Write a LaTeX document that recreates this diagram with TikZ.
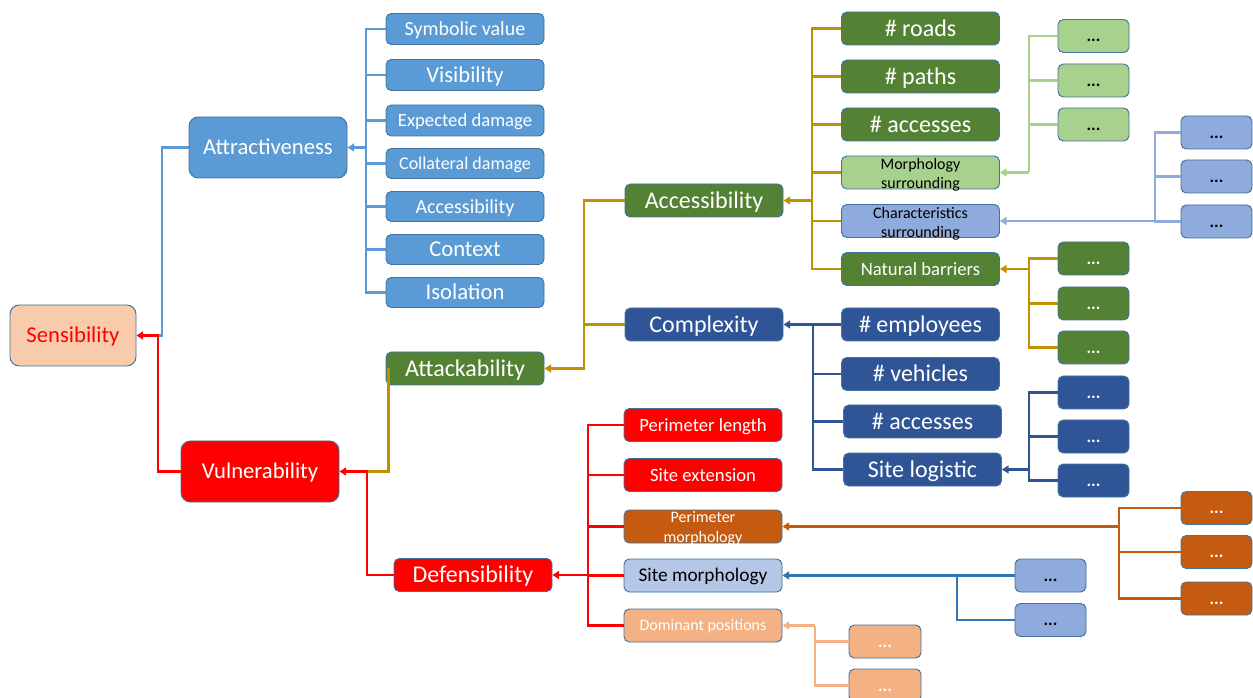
\documentclass[tikz,border=0pt]{standalone}
\usepackage{fontspec}
\setmainfont{Carlito}
\usetikzlibrary{arrows.meta}
\definecolor{lblue}{HTML}{5B9BD5}
\definecolor{pred}{HTML}{FF0000}
\definecolor{peach}{HTML}{F8CBAD}
\definecolor{dgreen}{HTML}{548235}
\definecolor{dblue}{HTML}{2F5597}
\definecolor{gold}{HTML}{BF9000}
\definecolor{lgreen}{HTML}{A9D18E}
\definecolor{peri}{HTML}{8FAADC}
\definecolor{orng}{HTML}{C55A11}
\definecolor{steel}{HTML}{B4C7E7}
\definecolor{apricot}{HTML}{F4B183}
\definecolor{smline}{HTML}{2E75B6}
\definecolor{bord}{HTML}{41719C}
\newcommand{\twoline}[3]{\raisebox{#1}[0pt][0pt]{\begin{tabular}{@{}c@{}}#2\\#3\end{tabular}}}
\tikzset{
  bx/.style={draw=bord, line width=0.7pt, rounded corners=4pt, inner sep=0pt, align=center, text=white},
  fs/.code={%
    \pgfmathsetmacro\myth{#1*0.8}\pgfmathsetmacro\mytd{#1*0.14}%
    \pgfkeys{/tikz/font=\fontsize{#1}{#1}\selectfont,
             /tikz/text height/.expanded=\myth pt,
             /tikz/text depth/.expanded=\mytd pt}},
  bigbx/.style={bx, rounded corners=7pt, minimum width=158*0.75pt, minimum height=61*0.75pt, fs=17},
  wd/.style={minimum width=#1*0.75pt},
  ht/.style={minimum height=#1*0.75pt},
  midbx/.style={bx, wd=158, ht=33},
  dotbx/.style={bx, wd=71, ht=33, fs=13},
  ln/.style={line width=1.6pt},
  arr/.style={-{Triangle[length=5pt,width=6pt]}}
}
\begin{document}
\begin{tikzpicture}[x=0.75pt,y=-0.75pt]
\useasboundingbox (0,0) rectangle (1253,698);
% bus coordinates
\coordinate (busSa) at (162,0);
\coordinate (busSb) at (158,0);
\coordinate (busA) at (366,0);
\coordinate (busV) at (367,0);
\coordinate (busK) at (584,0);
\coordinate (busD) at (588,0);
\coordinate (busAc) at (812,0);
\coordinate (busC) at (813,0);
\coordinate (busDP) at (815,0);
\coordinate (busSM) at (957,0);
\coordinate (busMo) at (1029,0);
\coordinate (busNa) at (1029,0);
\coordinate (busSL) at (1029,0);
\coordinate (busPM) at (1119,0);
\coordinate (busCh) at (1155,0);

% level 0/1
\node[bigbx, fill=peach, text=pred, wd=126] (sens) at (73,335.5) {Sensibility};
\node[bigbx, fill=lblue] (attr) at (268,147.5) {Attractiveness};
\node[bigbx, fill=pred] (vul) at (260,471.5) {Vulnerability};

% attractiveness children
\node[bx, fill=lblue, wd=158, ht=31, fs=15] (a1) at (465,29) {Symbolic value};
\node[bx, fill=lblue, wd=158, ht=31, fs=17] (a2) at (465,75) {Visibility};
\node[bx, fill=lblue, wd=158, ht=31, fs=14] (a3) at (465,120.5) {Expected damage};
\node[bx, fill=lblue, wd=158, ht=30, fs=13.5] (a4) at (465,163.5) {Collateral damage};
\node[bx, fill=lblue, wd=158, ht=30, fs=15] (a5) at (465,206.5) {Accessibility};
\node[bx, fill=lblue, wd=158, ht=30, fs=17] (a6) at (465,249.5) {Context};
\node[bx, fill=lblue, wd=158, ht=30, fs=17] (a7) at (465,292.5) {Isolation};

% level 2
\node[midbx, fill=dgreen, fs=18] (acc) at (704,200.5) {Accessibility};
\node[midbx, fill=dblue, fs=18] (cpx) at (704,324.5) {Complexity};
\node[midbx, fill=dgreen, fs=18] (att) at (465,368.5) {Attackability};
\node[midbx, fill=pred, fs=18] (def) at (473,575) {Defensibility};

% accessibility children
\node[midbx, fill=dgreen, fs=18] (r1) at (920.5,28.5) {\# roads};
\node[midbx, fill=dgreen, fs=18] (r2) at (920.5,76.5) {\# paths};
\node[midbx, fill=dgreen, fs=18] (r3) at (920.5,124.5) {\# accesses};
\node[midbx, fill=lgreen, text=black, font=\fontsize{12}{14.25}\selectfont] (r4) at (920.5,172.5) {\twoline{-5.25pt}{Morphology}{surrounding}};
\node[midbx, fill=peri, text=black, font=\fontsize{12}{14.25}\selectfont] (r5) at (920.5,221) {\twoline{-5.25pt}{Characteristics}{surrounding}};
\node[midbx, fill=dgreen, fs=14] (r6) at (920.5,269) {Natural barriers};

% complexity children
\node[midbx, fill=dblue, fs=18] (k1) at (920.5,324.5) {\# employees};
\node[midbx, fill=dblue, fs=18] (k2) at (920.5,374) {\# vehicles};
\node[midbx, fill=dblue, fs=18] (k3) at (922.5,421.5) {\# accesses};
\node[midbx, fill=dblue, fs=18] (k4) at (922.5,469.5) {Site logistic};

% defensibility children
\node[midbx, fill=pred, fs=14] (d1) at (703,425) {Perimeter length};
\node[midbx, fill=pred, fs=14] (d2) at (703,475) {Site extension};
\node[midbx, fill=orng, font=\fontsize{12}{15}\selectfont] (d3) at (703,526.5) {\twoline{-4.6pt}{Perimeter}{morphology}};
\node[midbx, fill=steel, text=black, fs=14.5] (d4) at (703,575.5) {Site morphology};
\node[midbx, fill=apricot, fs=12] (d5) at (703,625.5) {Dominant positions};

% leaf boxes
\node[dotbx, fill=lgreen, text=black] (m1) at (1093.5,36) {\textbf{...}};
\node[dotbx, fill=lgreen, text=black] (m2) at (1093.5,80.5) {\textbf{...}};
\node[dotbx, fill=lgreen, text=black] (m3) at (1093.5,124.5) {\textbf{...}};
\node[dotbx, fill=peri, text=black] (c1) at (1216.5,132.5) {\textbf{...}};
\node[dotbx, fill=peri, text=black] (c2) at (1216.5,176.5) {\textbf{...}};
\node[dotbx, fill=peri, text=black] (c3) at (1216.5,221.5) {\textbf{...}};
\node[dotbx, fill=dgreen] (n1) at (1093.5,258.5) {\textbf{...}};
\node[dotbx, fill=dgreen] (n2) at (1093.5,303.5) {\textbf{...}};
\node[dotbx, fill=dgreen] (n3) at (1093.5,347.5) {\textbf{...}};
\node[dotbx, fill=dblue] (s1) at (1093.5,392.5) {\textbf{...}};
\node[dotbx, fill=dblue] (s2) at (1093.5,436.5) {\textbf{...}};
\node[dotbx, fill=dblue] (s3) at (1093.5,480.5) {\textbf{...}};
\node[dotbx, fill=orng] (o1) at (1216.5,508) {\textbf{...}};
\node[dotbx, fill=orng] (o2) at (1216.5,552) {\textbf{...}};
\node[dotbx, fill=orng] (o3) at (1216.5,598.5) {\textbf{...}};
\node[dotbx, fill=peri, text=black] (p1) at (1050.5,575.5) {\textbf{...}};
\node[dotbx, fill=peri, text=black] (p2) at (1050.5,620) {\textbf{...}};
\node[dotbx, fill=apricot, wd=72] (q1) at (885,641.5) {\textbf{...}};
\node[dotbx, fill=apricot, wd=72] (q2) at (885,685.5) {\textbf{...}};

% ---- connectors ----
% attractiveness
\draw[ln, lblue] (a1.west) -- (a1.west -| busA) -- (a7.west -| busA) -- (a7.west);
\foreach \c in {a2,a3,a4,a5,a6} \draw[ln, lblue] (\c.west) -- (\c.west -| busA);
\draw[ln, lblue, arr] (attr.east -| busA) -- (attr.east);
% sensibility
\draw[ln, lblue] (attr.west) -- (attr.west -| busSa) -- (busSa |- sens.east) -- (busSb |- sens.east);
\draw[ln, pred, arr] (vul.west) -- (vul.west -| busSb) -- (busSb |- sens.east) -- (sens.east);
% attackability -> vulnerability
\coordinate (g0) at ([xshift=2.25pt]att.west);
\draw[ln, gold] (g0) -- (g0 |- vul.east) -- (busV |- vul.east);
\draw[ln, pred, arr] (def.west) -- (def.west -| busV) -- (busV |- vul.east) -- (vul.east);
% accessibility/complexity -> attackability
\draw[ln, gold] (acc.west) -- (acc.west -| busK) -- (busK |- cpx.west) -- (cpx.west);
\draw[ln, gold, arr] (busK |- cpx.west) -- (busK |- att.east) -- (att.east);
% accessibility children
\draw[ln, gold] (r1.west) -- (r1.west -| busAc) -- (r6.west -| busAc) -- (r6.west);
\foreach \c in {r2,r3,r4,r5} \draw[ln, gold] (\c.west) -- (\c.west -| busAc);
\draw[ln, gold, arr] (acc.east -| busAc) -- (acc.east);
% morphology surrounding
\draw[ln, lgreen] (m1.west) -- (m1.west -| busMo) -- (r4.east -| busMo);
\foreach \c in {m2,m3} \draw[ln, lgreen] (\c.west) -- (\c.west -| busMo);
\draw[ln, lgreen, arr] (r4.east -| busMo) -- (r4.east);
% characteristics surrounding
\draw[ln, peri] (c1.west) -- (c1.west -| busCh) -- (c3.west -| busCh) -- (c3.west);
\draw[ln, peri] (c2.west) -- (c2.west -| busCh);
\draw[ln, peri, arr] (r5.east -| busCh) -- (r5.east);
% natural barriers
\draw[ln, gold] (n1.west) -- (n1.west -| busNa) -- (n3.west -| busNa) -- (n3.west);
\draw[ln, gold] (n2.west) -- (n2.west -| busNa);
\draw[ln, gold, arr] (r6.east -| busNa) -- (r6.east);
% complexity children
\draw[ln, dblue] (k1.west) -- (k1.west -| busC) -- (k4.west -| busC) -- (k4.west);
\foreach \c in {k2,k3} \draw[ln, dblue] (\c.west) -- (\c.west -| busC);
\draw[ln, dblue, arr] (cpx.east -| busC) -- (cpx.east);
% site logistic
\draw[ln, dblue] (s1.west) -- (s1.west -| busSL) -- (s3.west -| busSL) -- (s3.west);
\draw[ln, dblue] (s2.west) -- (s2.west -| busSL);
\draw[ln, dblue, arr] (k4.east -| busSL) -- (k4.east);
% defensibility children
\draw[ln, pred] (d1.west) -- (d1.west -| busD) -- (d5.west -| busD) -- (d5.west);
\foreach \c in {d2,d3,d4} \draw[ln, pred] (\c.west) -- (\c.west -| busD);
\draw[ln, pred, arr] (def.east -| busD) -- (def.east);
% perimeter morphology
\draw[ln, orng] (o1.west) -- (o1.west -| busPM) -- (o3.west -| busPM) -- (o3.west);
\draw[ln, orng] (o2.west) -- (o2.west -| busPM);
\draw[ln, orng, arr] (d3.east -| busPM) -- (d3.east);
% site morphology
\draw[ln, smline] (p1.west) -- (p1.west -| busSM) -- (p2.west -| busSM) -- (p2.west);
\draw[ln, smline, arr] (d4.east -| busSM) -- (d4.east);
% dominant positions
\draw[ln, apricot] (q1.west) -- (q1.west -| busDP) -- (q2.west -| busDP) -- (q2.west);
\draw[ln, apricot] (d5.east -| busDP) -- (q1.west -| busDP);
\draw[ln, apricot, arr] (d5.east -| busDP) -- (d5.east);
\end{tikzpicture}
\end{document}
